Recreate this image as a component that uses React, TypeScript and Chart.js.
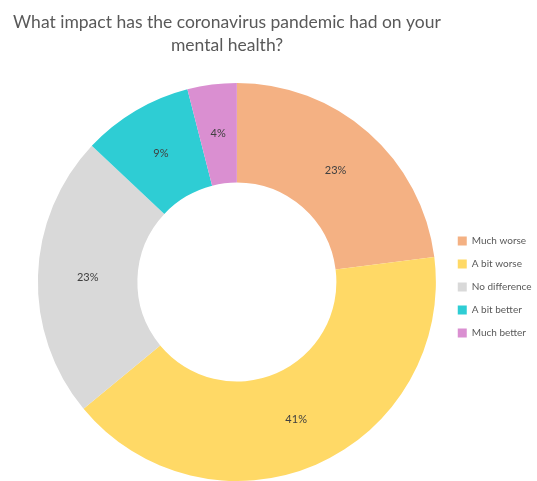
import React, { useEffect, useRef } from "react";
import { Chart, registerables } from "chart.js";

Chart.register(...registerables);

const titleLines = ["What impact has the coronavirus pandemic had on your", "mental health?"];
const categories = ["Much worse", "A bit worse", "No difference", "A bit better", "Much better"];
const percentages = [23, 41, 23, 9, 4];
const sliceColors = ["#F4B183", "#FFD966", "#D9D9D9", "#2ECDD4", "#DA8FD1"];

const FONT = "Lato, 'Open Sans', sans-serif";

const titlePlugin = {
  id: "customTitle",
  afterDraw(chart: any) {
    const ctx = chart.ctx;
    ctx.save();
    ctx.fillStyle = "#595959";
    ctx.font = `17.5px ${FONT}`;
    ctx.textAlign = "center";
    ctx.textBaseline = "middle";
    ctx.fillText(titleLines[0], 227, 22);
    ctx.fillText(titleLines[1], 227, 45);
    ctx.restore();
  },
};

const labelPlugin = {
  id: "sliceLabels",
  afterDatasetsDraw(chart: any) {
    const ctx = chart.ctx;
    const meta = chart.getDatasetMeta(0);
    ctx.save();
    ctx.fillStyle = "#404040";
    ctx.font = `11px ${FONT}`;
    ctx.textAlign = "center";
    ctx.textBaseline = "middle";
    meta.data.forEach((arc: any, i: number) => {
      const p = arc.getCenterPoint();
      ctx.fillText(`${percentages[i]}%`, p.x, p.y);
    });
    ctx.restore();
  },
};

export default function App() {
  const ref = useRef<HTMLCanvasElement | null>(null);
  useEffect(() => {
    if (!ref.current) return;
    const chart = new Chart(ref.current, {
      type: "doughnut",
      data: {
        labels: categories,
        datasets: [
          {
            data: percentages,
            backgroundColor: sliceColors,
            borderWidth: 0,
          },
        ],
      },
      options: {
        responsive: false,
        animation: false,
        cutout: "50%",
        layout: { padding: { top: 83, bottom: 0, left: 29, right: -4.5 } },
        plugins: {
          tooltip: { enabled: false },
          title: { display: false },
          legend: {
            position: "right",
            align: "center",
            title: { display: true, text: "", padding: 0, font: { size: 8, lineHeight: 1.25 } },
            labels: {
              boxWidth: 9,
              boxHeight: 9,
              padding: 13,
              color: "#595959",
              font: { family: FONT, size: 10 },
            },
          },
        },
      },
      plugins: [titlePlugin, labelPlugin],
    });
    return () => chart.destroy();
  }, []);
  return (
    <div style={{ position: "absolute", left: 0, top: 0, width: 537, height: 481, background: "#fff" }}>
      <canvas ref={ref} width={537} height={481} />
    </div>
  );
}
